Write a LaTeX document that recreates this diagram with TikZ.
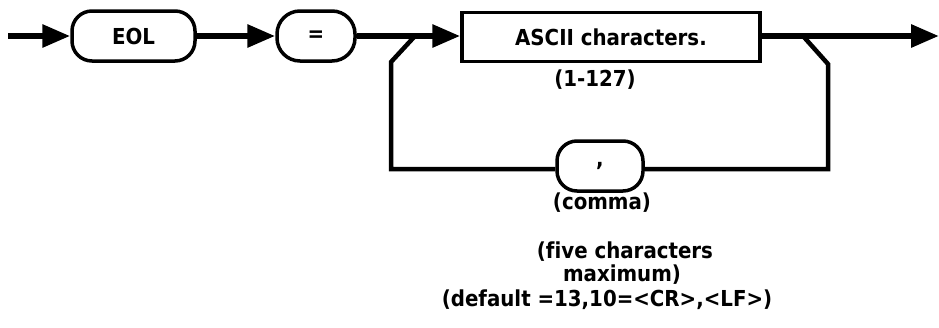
\documentclass[tikz,border=0pt]{standalone}
\usepackage{fontspec}
\setmainfont{DejaVu Sans Condensed}[Ligatures=NoCommon]
\usetikzlibrary{arrows.meta}
\begin{document}
\begin{tikzpicture}[x=1pt,y=-1pt,
  every node/.style={font=\fontsize{22}{26}\selectfont\bfseries, inner sep=0pt},
  term/.style={draw, line width=3.5pt, rounded corners=20pt, minimum height=50pt},
  nonterm/.style={draw, line width=3.5pt, minimum height=49pt},
  flow/.style={line width=6pt, -{Triangle[length=28pt,width=22pt]}},
  loopline/.style={line width=4.5pt, line join=miter}]
\useasboundingbox (0,0) rectangle (939,327);

\node[term, minimum width=123pt] (eol) at (133.5,36) {EOL};
\node[term, minimum width=78pt, rounded corners=23pt] (eq) at (316,36) {=};
\node[nonterm, minimum width=298pt] (asc) at (611,37) {ASCII characters.};
\node[term, minimum width=86pt] (comma) at (600,166) {,};

\node (rng) at (595,80) {(1-127)};
\node (cmt) at (602,203) {(comma)};
\node (n1) at (625,252) {(five characters};
\node (n2) at (622,275) {maximum)};
\node (n3) at (607,300) {(default =13,10=<CR>,<LF>)};

\coordinate (start) at (8,36);
\coordinate (finish) at (939,36);
\coordinate (b1) at (415,36);
\coordinate (b1a) at (391,62);
\coordinate (b1b) at (391,169);
\coordinate (b2) at (803,36);
\coordinate (b2a) at (828,64);
\coordinate (b2b) at (828,169);

\draw[flow] (start) -- (eol.west);
\draw[flow] (eol.east) -- (eq.west);
\draw[flow] (eq.east) -- (eq.east -| asc.west);
\draw[flow] (asc.east |- finish) -- (finish);

\draw[loopline] (b1) -- (b1a) -- (b1b) -- (b1b -| comma.west);
\draw[loopline] (b2b -| comma.east) -- (b2b) -- (b2a) -- (b2);
\end{tikzpicture}
\end{document}
